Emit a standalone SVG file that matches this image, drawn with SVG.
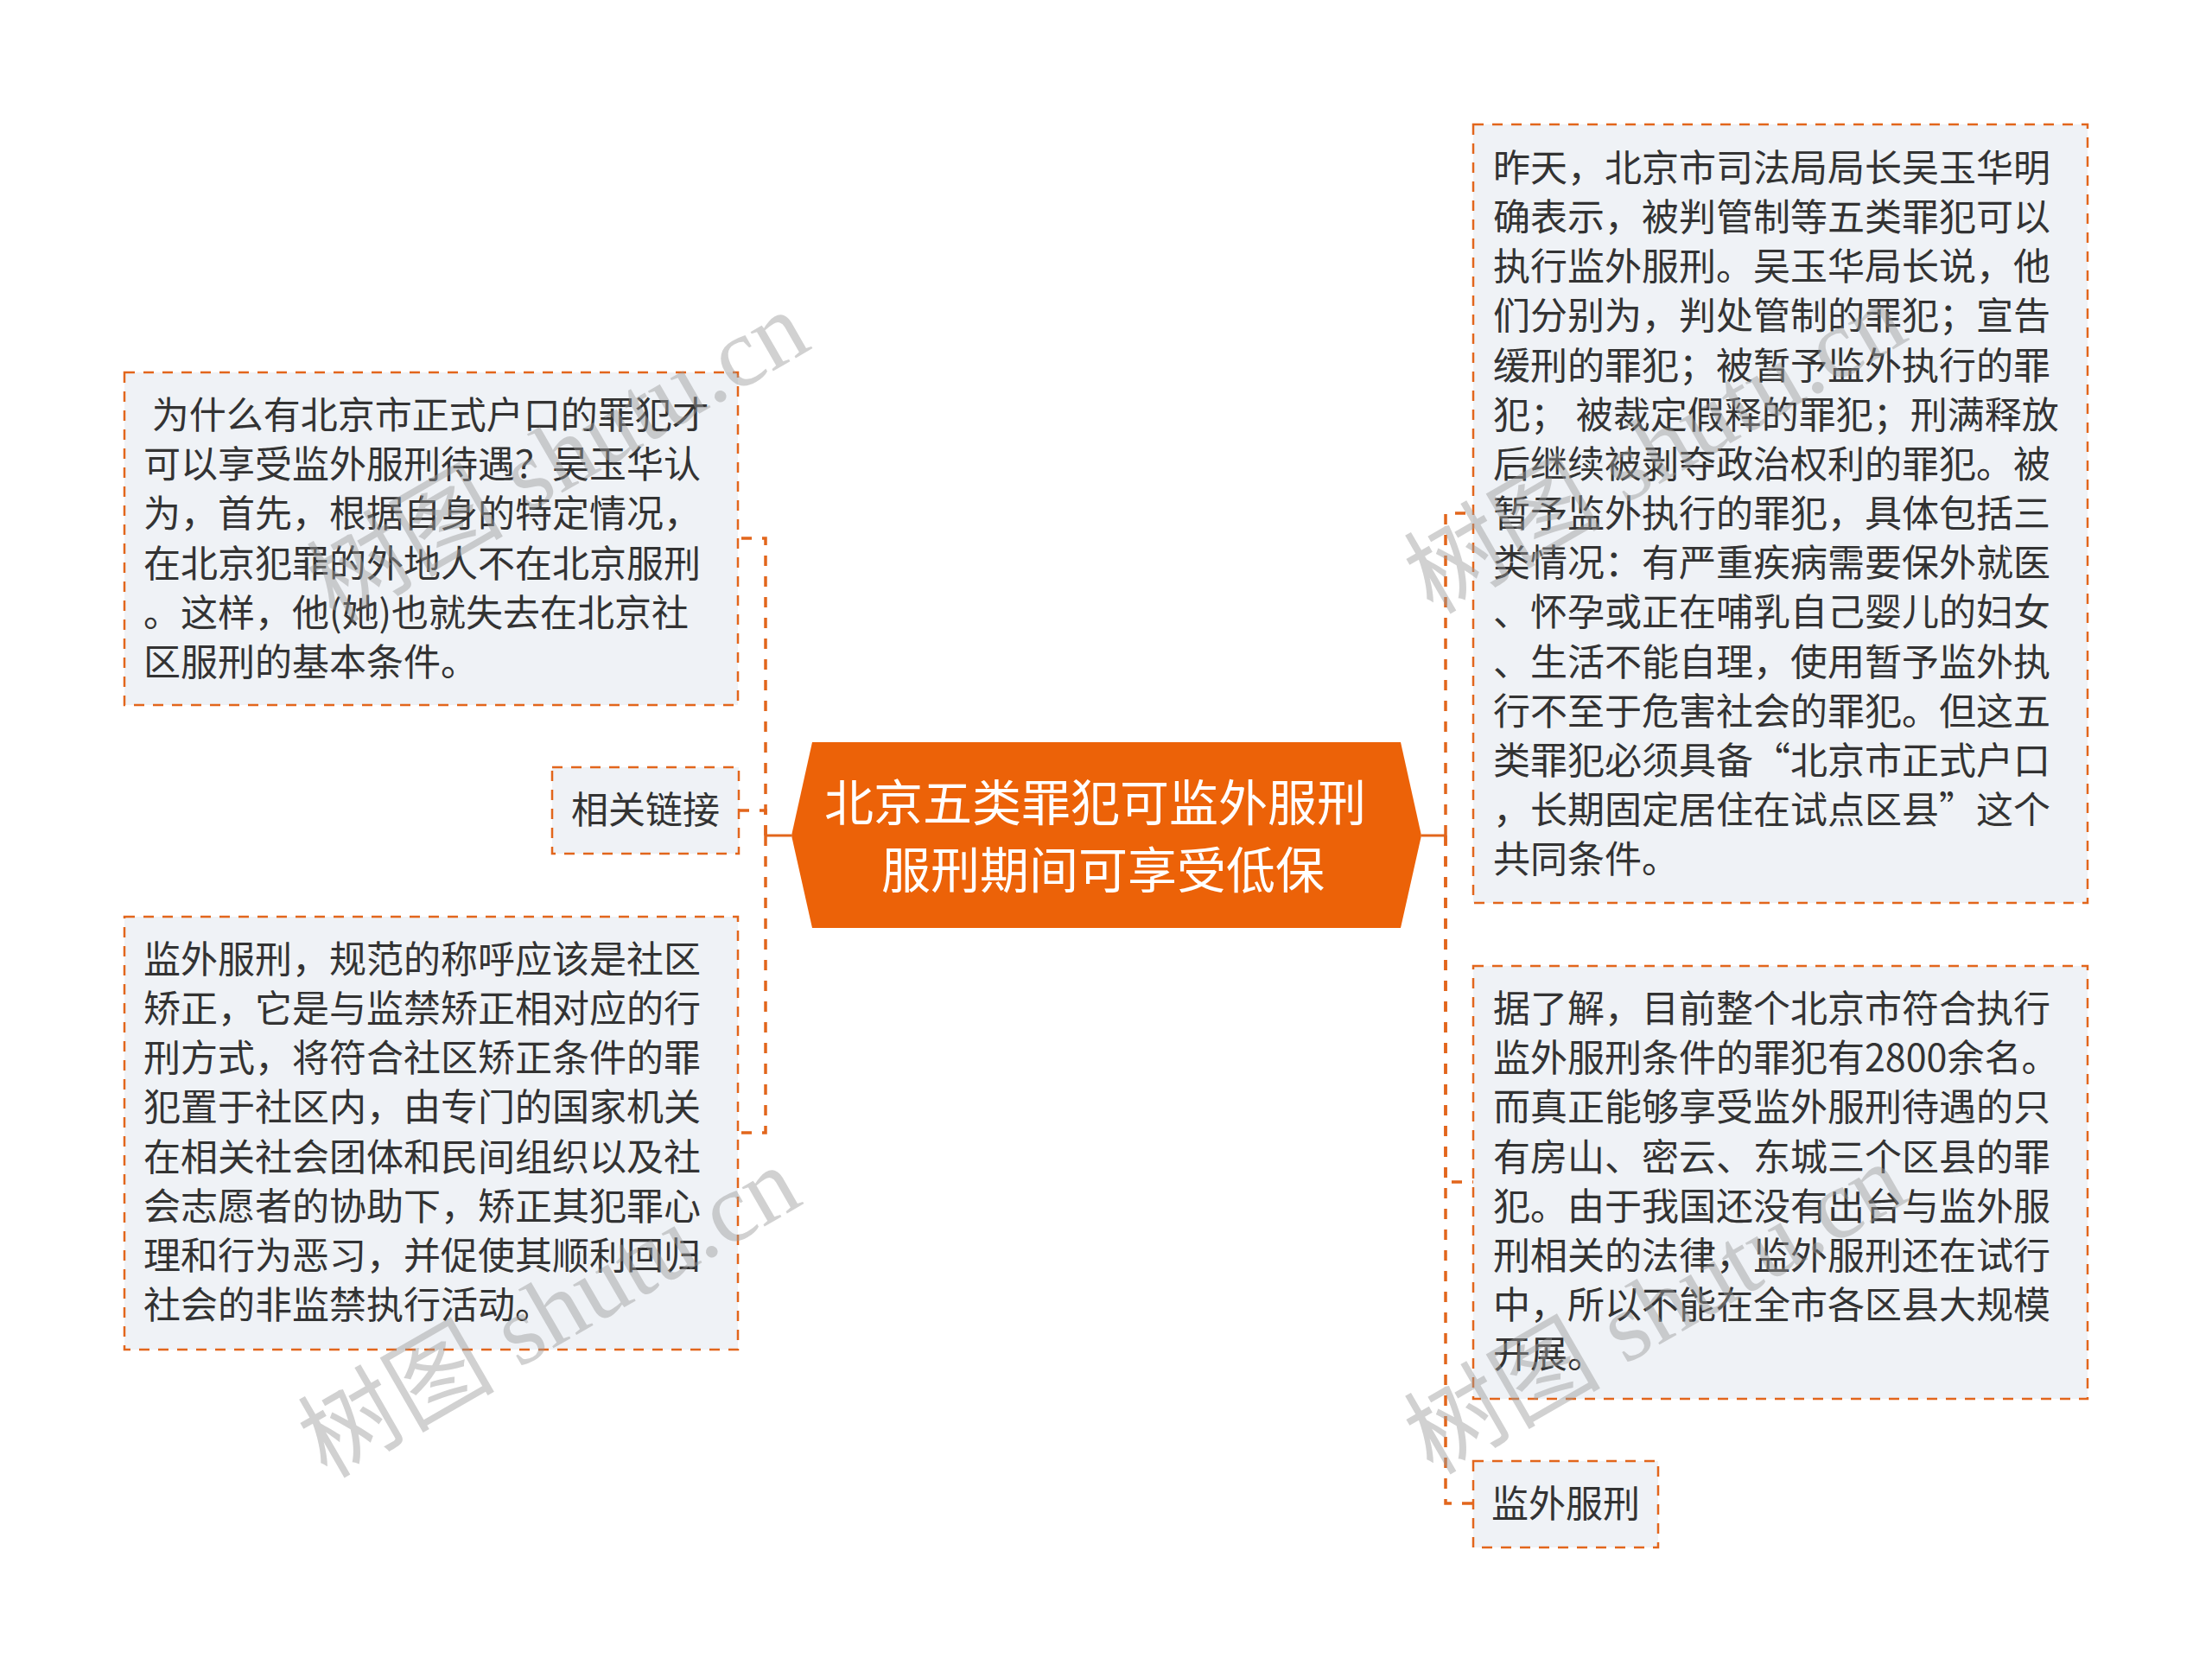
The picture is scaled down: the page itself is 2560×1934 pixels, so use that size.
<svg xmlns="http://www.w3.org/2000/svg" width="2560" height="1934" viewBox="0 0 2560 1934">
<style>
.box{fill:#EFF2F6;stroke:#E2661C;stroke-width:2.5;stroke-dasharray:12 10}
.link{fill:none;stroke:#E2661C;stroke-width:3.5;stroke-dasharray:12 12}
.solid{fill:none;stroke:#E2661C;stroke-width:3}
.t{font-family:"Noto Sans CJK SC","Noto Sans",sans-serif;font-size:43px;fill:#333333}
.c{font-family:"Noto Sans CJK SC","Noto Sans",sans-serif;font-size:57px;fill:#FFFFFF}
.wm{font-family:"Liberation Serif","Noto Sans CJK SC",serif;font-size:114px;fill:#9A9A9A;opacity:0.45}
</style>
<rect x="0" y="0" width="2560" height="1934" fill="#FFFFFF"/>
<g id="connectors">
<path class="solid" d="M916,967 H886"/>
<path class="solid" d="M1645,967 H1673"/>
<path class="link" d="M886,967 V623 H854"/>
<path class="link" d="M886,967 V938 H855"/>
<path class="link" d="M886,967 V1311 H854"/>
<path class="link" d="M1673,967 V594 H1705"/>
<path class="link" d="M1673,967 V1368 H1705"/>
<path class="link" d="M1673,967 V1740 H1705"/>
</g>
<g id="center">
<polygon points="940,859 1621,859 1645,967 1621,1074 940,1074 916,967" fill="#EC6208"/>
<text class="c" x="954" y="950">北京五类罪犯可监外服刑</text>
<text class="c" x="1020" y="1028">服刑期间可享受低保</text>
</g>
<g id="node-left-1">
<rect class="box" x="144" y="431" width="710" height="385"/>
<text class="t" xml:space="preserve"><tspan x="166" y="496"> 为什么有北京市正式户口的罪犯才</tspan><tspan x="166" y="553">可以享受监外服刑待遇？吴玉华认</tspan><tspan x="166" y="610">为，首先，根据自身的特定情况，</tspan><tspan x="166" y="668">在北京犯罪的外地人不在北京服刑</tspan><tspan x="166" y="725">。这样，他(她)也就失去在北京社</tspan><tspan x="166" y="782">区服刑的基本条件。</tspan></text>
</g>
<g id="node-left-2">
<rect class="box" x="639" y="888" width="216" height="100"/>
<text class="t" x="747" y="953" text-anchor="middle">相关链接</text>
</g>
<g id="node-left-3">
<rect class="box" x="144" y="1061" width="710" height="501"/>
<text class="t"><tspan x="166" y="1126">监外服刑，规范的称呼应该是社区</tspan><tspan x="166" y="1183">矫正，它是与监禁矫正相对应的行</tspan><tspan x="166" y="1240">刑方式，将符合社区矫正条件的罪</tspan><tspan x="166" y="1297">犯置于社区内，由专门的国家机关</tspan><tspan x="166" y="1355">在相关社会团体和民间组织以及社</tspan><tspan x="166" y="1412">会志愿者的协助下，矫正其犯罪心</tspan><tspan x="166" y="1469">理和行为恶习，并促使其顺利回归</tspan><tspan x="166" y="1526">社会的非监禁执行活动。</tspan></text>
</g>
<g id="node-right-1">
<rect class="box" x="1705" y="144" width="711" height="901"/>
<text class="t" xml:space="preserve"><tspan x="1728" y="210">昨天，北京市司法局局长吴玉华明</tspan><tspan x="1728" y="267">确表示，被判管制等五类罪犯可以</tspan><tspan x="1728" y="324">执行监外服刑。吴玉华局长说，他</tspan><tspan x="1728" y="381">们分别为，判处管制的罪犯；宣告</tspan><tspan x="1728" y="439">缓刑的罪犯；被暂予监外执行的罪</tspan><tspan x="1728" y="496">犯； 被裁定假释的罪犯；刑满释放</tspan><tspan x="1728" y="553">后继续被剥夺政治权利的罪犯。被</tspan><tspan x="1728" y="610">暂予监外执行的罪犯，具体包括三</tspan><tspan x="1728" y="667">类情况：有严重疾病需要保外就医</tspan><tspan x="1728" y="724">、怀孕或正在哺乳自己婴儿的妇女</tspan><tspan x="1728" y="782">、生活不能自理，使用暂予监外执</tspan><tspan x="1728" y="839">行不至于危害社会的罪犯。但这五</tspan><tspan x="1728" y="896">类罪犯必须具备“北京市正式户口</tspan><tspan x="1728" y="953">，长期固定居住在试点区县”这个</tspan><tspan x="1728" y="1010">共同条件。</tspan></text>
</g>
<g id="node-right-2">
<rect class="box" x="1705" y="1118" width="711" height="501"/>
<text class="t"><tspan x="1728" y="1183">据了解，目前整个北京市符合执行</tspan><tspan x="1728" y="1240">监外服刑条件的罪犯有2800余名。</tspan><tspan x="1728" y="1297">而真正能够享受监外服刑待遇的只</tspan><tspan x="1728" y="1355">有房山、密云、东城三个区县的罪</tspan><tspan x="1728" y="1412">犯。由于我国还没有出台与监外服</tspan><tspan x="1728" y="1469">刑相关的法律，监外服刑还在试行</tspan><tspan x="1728" y="1526">中，所以不能在全市各区县大规模</tspan><tspan x="1728" y="1583">开展。</tspan></text>
</g>
<g id="node-right-3">
<rect class="box" x="1705" y="1691" width="214" height="100"/>
<text class="t" x="1812" y="1756" text-anchor="middle">监外服刑</text>
</g>
<g id="watermarks">
<text class="wm" transform="translate(388,722) rotate(-30)">树图 shutu.cn</text>
<text class="wm" transform="translate(1658,712) rotate(-30)">树图 shutu.cn</text>
<text class="wm" transform="translate(378,1712) rotate(-30)">树图 shutu.cn</text>
<text class="wm" transform="translate(1658,1708) rotate(-30)">树图 shutu.cn</text>
</g>
</svg>
